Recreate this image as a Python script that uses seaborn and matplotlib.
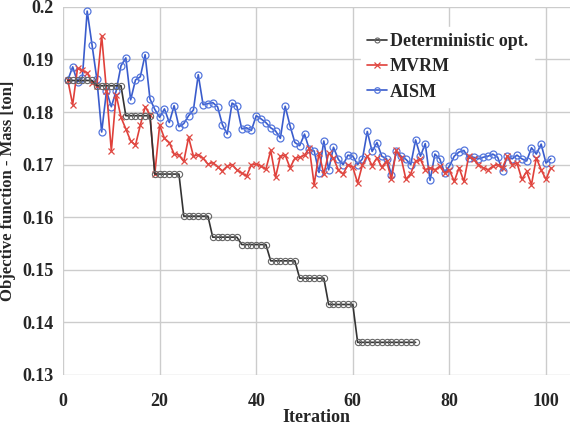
import numpy as np
import pandas as pd
import matplotlib
matplotlib.use("Agg")
import matplotlib.pyplot as plt
import seaborn as sns

# ---- data ----
det_iter = list(range(1, 74))
det_levels = [0.1860, 0.1850, 0.1793, 0.1682, 0.1602, 0.1562, 0.1548, 0.1517, 0.1484, 0.1434]
det_vals = []
for lv in det_levels:
    det_vals += [lv] * 6
det_vals += [0.1362] * 13

mvrm_vals = [0.1860, 0.1814, 0.1883, 0.1879, 0.1875, 0.1856, 0.1850, 0.1945, 0.1840, 0.1726,
             0.1833, 0.1790, 0.1768, 0.1745, 0.1737, 0.1775, 0.1810, 0.1795, 0.1682, 0.1775,
             0.1750, 0.1742, 0.1720, 0.1718, 0.1706, 0.1752, 0.1716, 0.1719, 0.1712, 0.1701,
             0.1704, 0.1696, 0.1688, 0.1697, 0.1700, 0.1690, 0.1684, 0.1678, 0.1700, 0.1701,
             0.1697, 0.1691, 0.1727, 0.1676, 0.1716, 0.1718, 0.1694, 0.1712, 0.1714, 0.1718,
             0.1731, 0.1662, 0.1722, 0.1682, 0.1722, 0.1712, 0.1690, 0.1682, 0.1700, 0.1695,
             0.1665, 0.1700, 0.1716, 0.1698, 0.1713, 0.1695, 0.1707, 0.1672, 0.1727, 0.1713,
             0.1672, 0.1683, 0.1707, 0.1710, 0.1690, 0.1694, 0.1690, 0.1697, 0.1684, 0.1690,
             0.1668, 0.1694, 0.1668, 0.1716, 0.1710, 0.1700, 0.1694, 0.1690, 0.1697, 0.1700,
             0.1694, 0.1716, 0.1700, 0.1703, 0.1672, 0.1687, 0.1662, 0.1713, 0.1690, 0.1672,
             0.1694]

aism_vals = [0.1861, 0.1886, 0.1857, 0.1865, 0.1992, 0.1928, 0.1863, 0.1762, 0.1840, 0.1810,
             0.1840, 0.1888, 0.1903, 0.1823, 0.1861, 0.1867, 0.1909, 0.1825, 0.1805, 0.1790,
             0.1806, 0.1780, 0.1812, 0.1772, 0.1778, 0.1793, 0.1804, 0.1871, 0.1814, 0.1816,
             0.1818, 0.1810, 0.1776, 0.1758, 0.1817, 0.1811, 0.1768, 0.1770, 0.1765, 0.1793,
             0.1787, 0.1780, 0.1770, 0.1764, 0.1750, 0.1811, 0.1774, 0.1742, 0.1736, 0.1758,
             0.1729, 0.1726, 0.1685, 0.1745, 0.1690, 0.1733, 0.1710, 0.1700, 0.1718, 0.1716,
             0.1700, 0.1711, 0.1763, 0.1725, 0.1742, 0.1716, 0.1711, 0.1681, 0.1725, 0.1716,
             0.1710, 0.1700, 0.1747, 0.1716, 0.1740, 0.1670, 0.1720, 0.1711, 0.1685, 0.1697,
             0.1716, 0.1724, 0.1727, 0.1712, 0.1714, 0.1711, 0.1714, 0.1716, 0.1720, 0.1714,
             0.1688, 0.1716, 0.1711, 0.1718, 0.1711, 0.1707, 0.1732, 0.1720, 0.1739, 0.1703,
             0.1711]

mvrm_iter = list(range(1, len(mvrm_vals) + 1))
aism_iter = list(range(1, len(aism_vals) + 1))

x_ticks = [0, 20, 40, 60, 80, 100]
y_ticks = [0.13, 0.14, 0.15, 0.16, 0.17, 0.18, 0.19, 0.2]
y_tick_labels = ["0.13", "0.14", "0.15", "0.16", "0.17", "0.18", "0.19", "0.2"]

# ---- plot ----
sns.set_theme(style="whitegrid")
plt.rcParams['font.family'] = ['Liberation Serif', 'DejaVu Serif']
plt.rcParams['font.weight'] = 'bold'

fig = plt.figure(figsize=(5.73, 4.29), dpi=100)
ax = fig.add_axes([0.110, 0.126, 0.885, 0.858])

df_det = pd.DataFrame({"x": det_iter, "y": det_vals})
df_mv = pd.DataFrame({"x": mvrm_iter, "y": mvrm_vals})
df_ai = pd.DataFrame({"x": aism_iter, "y": aism_vals})

sns.lineplot(data=df_ai, x="x", y="y", ax=ax, color="#3a5ccc", lw=1.2,
             marker="o", markersize=5, markerfacecolor="none",
             markeredgecolor="#5577dd", markeredgewidth=0.9, label="AISM", zorder=3)
sns.lineplot(data=df_mv, x="x", y="y", ax=ax, color="#e0403a", lw=1.2,
             marker="x", markersize=5, markeredgecolor="#e04a44",
             markeredgewidth=0.9, label="MVRM", zorder=4)
sns.lineplot(data=df_det, x="x", y="y", ax=ax, color="#333333", lw=1.2,
             marker="o", markersize=4.5, markerfacecolor="none",
             markeredgecolor="#666666", markeredgewidth=0.8,
             label="Deterministic opt.", zorder=5)

ax.set_xlim(0, 105)
ax.set_ylim(0.13, 0.2)
ax.set_xticks(x_ticks)
ax.set_yticks(y_ticks)
ax.set_yticklabels(y_tick_labels)
ax.tick_params(axis="y", labelsize=13, pad=7, length=0)
ax.tick_params(axis="x", labelsize=13, pad=13, length=0)
for t in ax.get_xticklabels() + ax.get_yticklabels():
    t.set_fontweight('bold')
ax.grid(True, color="#cccccc", lw=1)
for s in ax.spines.values():
    s.set_visible(False)

ax.set_xlabel("Iteration", fontsize=13, fontweight='bold')
ax.xaxis.set_label_coords(0.5, -0.092)
ax.set_ylabel("Objective function - Mass [ton]", fontsize=12, fontweight='bold')
ax.yaxis.set_label_coords(-0.093, 0.5)

handles, labels = ax.get_legend_handles_labels()
order = [labels.index("Deterministic opt."), labels.index("MVRM"), labels.index("AISM")]
leg = ax.legend([handles[i] for i in order], [labels[i] for i in order],
                loc="upper left", bbox_to_anchor=(0.57, 0.97), frameon=True,
                fontsize=13, handlelength=1.1, handletextpad=0.15,
                labelspacing=0.45, borderpad=0.35, framealpha=1, markerscale=0.8)
leg.get_frame().set_edgecolor("white")
leg.get_frame().set_facecolor("white")
for t in leg.get_texts():
    t.set_fontweight('bold')

fig.savefig("out.png", dpi=100)
